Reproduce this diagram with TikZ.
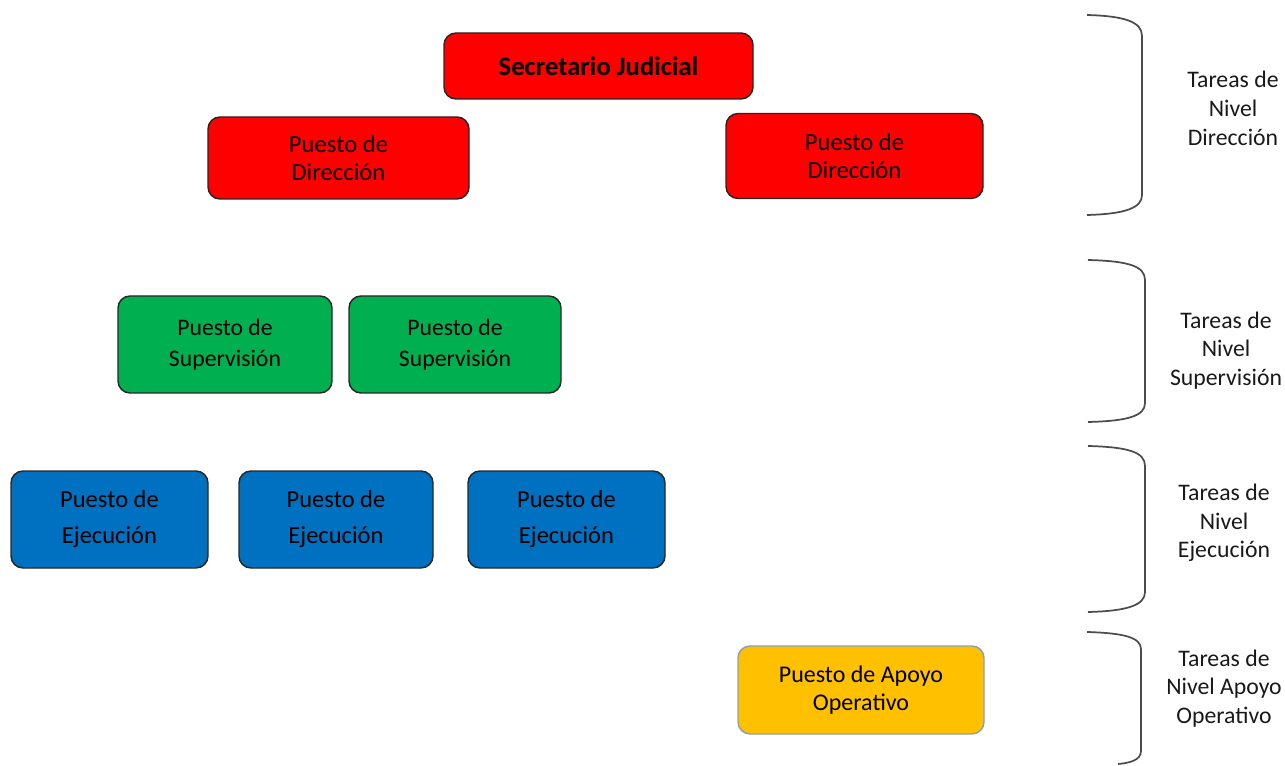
\documentclass[tikz,border=0pt]{standalone}
\usepackage{fontspec}
\setmainfont{Carlito}
\begin{document}
\begin{tikzpicture}[x=0.75pt,y=-0.75pt,
  box/.style={draw=black!85,line width=1.1pt,rounded corners=9pt,inner sep=0pt,
    font=\fontsize{18}{21}\selectfont,align=center,text=black},
  red box/.style={box,fill=red},
  green box/.style={box,fill={rgb,255:red,0;green,176;blue,80}},
  blue box/.style={box,fill={rgb,255:red,0;green,112;blue,192}},
  yellow box/.style={box,fill={rgb,255:red,255;green,192;blue,0},draw={rgb,255:red,140;green,160;blue,180}},
  brace/.style={draw=black!70,line width=1.3pt},
  lbl/.style={font=\fontsize{17.8}{21.5}\selectfont,align=center,text=black!90}]
\useasboundingbox (0,0) rectangle (1285,766);
% boxes
\node[red box,minimum width=309*0.75pt,minimum height=66*0.75pt,font=\fontsize{20}{21}\selectfont\bfseries] (sj) at (598.5,66) {Secretario Judicial};
\node[red box,minimum width=261*0.75pt,minimum height=82*0.75pt,font=\fontsize{18.5}{21}\selectfont] (d1) at (338.5,158) {Puesto de\\Dirección};
\node[red box,minimum width=257*0.75pt,minimum height=85*0.75pt,font=\fontsize{18.5}{21.5}\selectfont] (d2) at (854.5,156) {Puesto de\\Dirección};
\node[green box,minimum width=214*0.75pt,minimum height=97*0.75pt,font=\fontsize{17.8}{23}\selectfont] (s1) at (225,344.5) {Puesto de\\Supervisión};
\node[green box,minimum width=212*0.75pt,minimum height=97*0.75pt,font=\fontsize{17.8}{23}\selectfont] (s2) at (455,344.5) {Puesto de\\Supervisión};
\node[blue box,minimum width=197*0.75pt,minimum height=97*0.75pt,font=\fontsize{18.4}{27}\selectfont] (e1) at (109.5,519.5) {Puesto de\\Ejecución};
\node[blue box,minimum width=194*0.75pt,minimum height=97*0.75pt,font=\fontsize{18.4}{27}\selectfont] (e2) at (336,519.5) {Puesto de\\Ejecución};
\node[blue box,minimum width=197*0.75pt,minimum height=97*0.75pt,font=\fontsize{18.4}{27}\selectfont] (e3) at (566.5,519.5) {Puesto de\\Ejecución};
\node[yellow box,minimum width=246*0.75pt,minimum height=88*0.75pt] (ap) at (861,690) {Puesto de Apoyo\\Operativo};
% braces
\draw[brace] (1087,15) .. controls (1125,16) and (1142,22) .. (1142,36) -- (1142,195) .. controls (1142,208) and (1125,214) .. (1087,215);
\draw[brace] (1088,260) .. controls (1128,261) and (1145,266) .. (1145,280) -- (1145,403) .. controls (1145,416) and (1128,421) .. (1088,422);
\draw[brace] (1088,446) .. controls (1128,447) and (1145,452) .. (1145,466) -- (1145,592) .. controls (1145,605) and (1128,611) .. (1088,612);
\draw[brace] (1087,632) .. controls (1122,633) and (1141,637) .. (1141,649) -- (1141,751) .. controls (1141,760) and (1130,763) .. (1118,764);
% labels
\node[lbl] (l1) at (1233,108.5) {Tareas de\\Nivel\\Dirección};
\node[lbl] (l2) at (1226,350.5) {Tareas de\\Nivel\\Supervisión};
\node[lbl] (l3) at (1224,523) {Tareas de\\Nivel\\Ejecución};
\node[lbl] (l4) at (1224,688.5) {Tareas de\\Nivel Apoyo\\Operativo};
\end{tikzpicture}
\end{document}
